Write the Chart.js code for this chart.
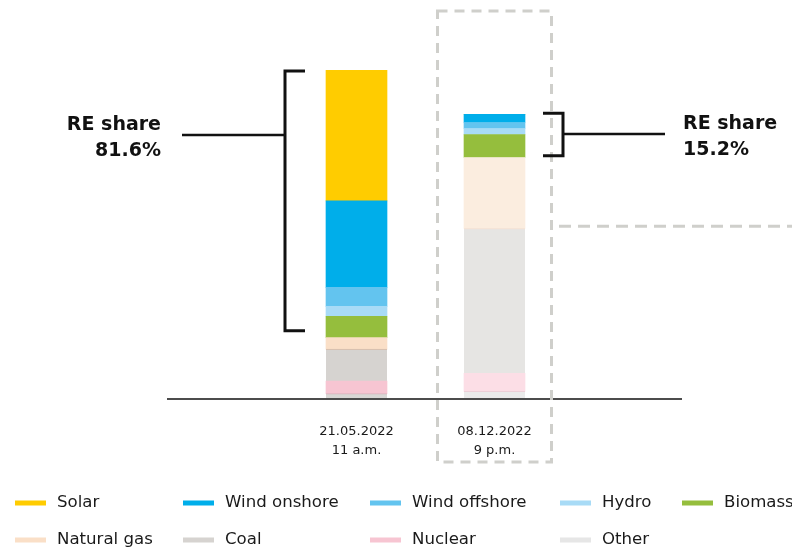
<!DOCTYPE html>
<html>
<head>
<meta charset="utf-8">
<title>Power generation mix</title>
<script src="https://cdn.jsdelivr.net/npm/chart.js@4"></script>
<style>
  html, body { margin: 0; padding: 0; background: #fff; }
  canvas { display: block; }
</style>
</head>
<body>
<canvas id="mix-chart" width="792" height="552"></canvas>
<script>
// Generation per source (GW), one value per snapshot
const dateLabels = [['21.05.2022', '11 a.m.'], ['08.12.2022', '9 p.m.']];
const solar = [23.95, 0];
const windOnshore = [15.8, 1.5];
const windOffshore = [3.5, 1.1];
const hydro = [1.8, 1.1];
const biomass = [3.9, 4.2];
const naturalGas = [2.1, 13.0];
const coal = [5.85, 26.5];
const nuclear = [2.3, 3.3];
const other = [0.8, 1.2];

const FONT = '"DejaVu Sans", sans-serif';
Chart.defaults.font.family = FONT;

// Legend order (top of stack first); barColors lets the second snapshot use lighter fossil shades
const sources = [
  { label: 'Solar', values: solar, color: '#FFCC00', renewable: true },
  { label: 'Wind onshore', values: windOnshore, color: '#00AEEA', renewable: true },
  { label: 'Wind offshore', values: windOffshore, color: '#63C4EF', renewable: true },
  { label: 'Hydro', values: hydro, color: '#A8DBF6', renewable: true },
  { label: 'Biomass', values: biomass, color: '#95BE3D', renewable: true },
  { label: 'Natural gas', values: naturalGas, color: '#FADFC7', barColors: ['#FADFC7', '#FBEDDF'] },
  { label: 'Coal', values: coal, color: '#D6D3D0', barColors: ['#D6D3D0', '#E6E5E3'],
    edge: ['#D9BBA6', '#F0DACB'] },
  { label: 'Nuclear', values: nuclear, color: '#F7C5D2', barColors: ['#F7C5D2', '#FCDEE6'] },
  { label: 'Other', values: other, color: '#E6E6E6', barColors: ['#D9D7D5', '#EBEBEB'],
    edge: ['#D8B3BD', '#EDD0D8'] }
];

// stacked bottom-up, so the legend order is reversed for the datasets
const datasets = sources.slice().reverse().map(s => ({
  label: s.label,
  data: s.values,
  backgroundColor: s.barColors || s.color,
  borderColor: s.edge || 'rgba(0,0,0,0)',
  borderWidth: s.edge ? { top: 1, right: 0, bottom: 0, left: 0 } : 0,
  borderSkipped: false,
  barThickness: 61
}));

function reShare(i) {
  let re = 0, total = 0;
  sources.forEach(s => {
    total += s.values[i];
    if (s.renewable) re += s.values[i];
  });
  return (re / total * 100).toFixed(1) + '%';
}

// brackets next to each bar with the renewable share
const annotations = [
  { bar: 0, side: 'left', span: [12.3, 59.8], at: 48.1 },
  { bar: 1, side: 'right', span: [44.3, 52.1], at: 48.3 }
];

const legendCols = [15, 183, 370, 560, 682];
const legendRows = [503, 540];

const overlay = {
  id: 'overlay',
  afterDraw(chart) {
    const { ctx, chartArea } = chart;
    const x = chart.scales.x;
    const y = chart.scales.y;
    const base = y.getPixelForValue(0);
    ctx.save();

    // baseline
    ctx.strokeStyle = '#111';
    ctx.lineWidth = 1.5;
    ctx.beginPath();
    ctx.moveTo(167, base + 1);
    ctx.lineTo(682, base + 1);
    ctx.stroke();

    // dashed frame round the evening bar
    const c2 = x.getPixelForValue(1);
    ctx.strokeStyle = '#CFCFCB';
    ctx.lineWidth = 3;
    ctx.setLineDash([10, 7]);
    ctx.strokeRect(c2 - 57, chartArea.top - 59, 114, chartArea.bottom - chartArea.top + 123);
    ctx.setLineDash([12, 7]);
    ctx.beginPath();
    ctx.moveTo(c2 + 64.5, y.getPixelForValue(31.4));
    ctx.lineTo(792, y.getPixelForValue(31.4));
    ctx.stroke();
    ctx.setLineDash([]);

    // RE share brackets
    annotations.forEach(a => {
      const cx = x.getPixelForValue(a.bar);
      const top = y.getPixelForValue(a.span[1]);
      const bottom = y.getPixelForValue(a.span[0]);
      const cy = Math.round(y.getPixelForValue(a.at));
      const left = a.side === 'left';
      const bx = left ? cx - 30.5 - 41 : cx + 30.5 + 38;
      const tip = left ? bx + 20 : bx - 20;
      ctx.strokeStyle = '#111';
      ctx.lineWidth = 3;
      ctx.beginPath();
      ctx.moveTo(tip, top);
      ctx.lineTo(bx, top);
      ctx.lineTo(bx, bottom);
      ctx.lineTo(tip, bottom);
      ctx.stroke();
      ctx.lineWidth = 2.5;
      ctx.beginPath();
      ctx.moveTo(left ? 182 : bx, cy);
      ctx.lineTo(left ? bx : 665, cy);
      ctx.stroke();

      ctx.fillStyle = '#111';
      ctx.font = 'bold 19px ' + FONT;
      ctx.textBaseline = 'alphabetic';
      ctx.textAlign = left ? 'right' : 'left';
      const tx = left ? 161 : 683;
      ctx.fillText('RE share', tx, cy - 5);
      ctx.fillText(reShare(a.bar), tx, cy + 21);
    });

    // legend
    ctx.font = '16.6px ' + FONT;
    ctx.textAlign = 'left';
    ctx.textBaseline = 'middle';
    sources.forEach((s, i) => {
      const row = i < 5 ? 0 : 1;
      const lx = legendCols[row === 0 ? i : i - 5];
      const ly = legendRows[row];
      ctx.fillStyle = s.color;
      ctx.fillRect(lx, ly - 2.5, 31, 5);
      ctx.fillStyle = '#1a1a1a';
      ctx.fillText(s.label, lx + 42, ly);
    });
    ctx.restore();
  }
};

new Chart(document.getElementById('mix-chart'), {
  type: 'bar',
  data: { labels: dateLabels, datasets: datasets },
  options: {
    responsive: false,
    animation: false,
    layout: { padding: { left: 287.5, right: 228.5, top: 70, bottom: 94 } },
    plugins: {
      legend: { display: false },
      tooltip: { enabled: false }
    },
    scales: {
      x: {
        stacked: true,
        grid: { display: false, drawTicks: false },
        border: { display: false },
        ticks: { padding: 25, color: '#1a1a1a', font: { size: 13, lineHeight: 1.4 } },
        afterFit: scale => { scale.height = 60; }
      },
      y: { stacked: true, display: false, min: 0, max: 60 }
    }
  },
  plugins: [overlay]
});
</script>
</body>
</html>
